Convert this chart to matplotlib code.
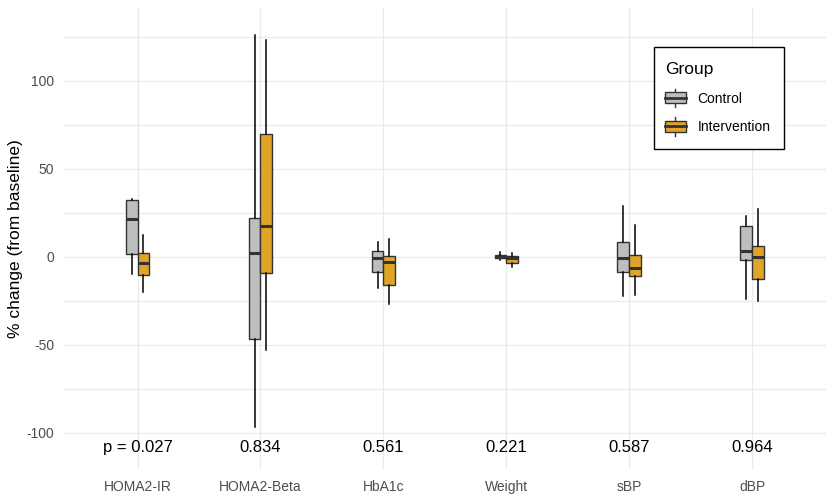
import numpy as np
import matplotlib.pyplot as plt
from matplotlib.legend_handler import HandlerBase
from matplotlib.patches import Rectangle, Patch
from matplotlib.lines import Line2D

plt.rcParams['font.family'] = ['Liberation Sans', 'DejaVu Sans']
plt.rcParams['axes.unicode_minus'] = False

# values (% change from baseline)
variables = ["HOMA2-IR", "HOMA2-Beta", "HbA1c", "Weight", "sBP", "dBP"]
p_labels = ["p = 0.027", "0.834", "0.561", "0.221", "0.587", "0.964"]
groups = ["Control", "Intervention"]

# per group: whisker low, q1, median, q3, whisker high
control_stats = [
    [-9.7, 1.7, 21.6, 32.5, 33.0],
    [-97.0, -47.0, 1.9, 22.2, 126.0],
    [-17.5, -8.5, -0.7, 3.0, 8.4],
    [-2.0, -1.0, 0.0, 0.8, 2.5],
    [-22.4, -8.5, -0.9, 8.4, 29.0],
    [-23.8, -1.7, 3.0, 17.7, 23.4],
]
intervention_stats = [
    [-20.0, -10.4, -3.8, 1.9, 12.5],
    [-53.0, -9.1, 17.5, 69.5, 123.0],
    [-27.0, -15.8, -3.2, 0.2, 9.9],
    [-5.7, -3.4, -1.0, 0.6, 2.3],
    [-22.0, -11.2, -6.6, 1.0, 18.2],
    [-25.0, -12.9, -0.4, 5.9, 27.2],
]

colors = {"Control": "#BEBEBE", "Intervention": "#E0A526"}
edge = "#333333"


def make_stats(rows):
    out = []
    for lo, q1, med, q3, hi in rows:
        out.append(dict(whislo=lo, q1=q1, med=med, q3=q3, whishi=hi, fliers=[]))
    return out


class BoxHandler(HandlerBase):
    def create_artists(self, legend, orig_handle, xdescent, ydescent,
                       width, height, fontsize, trans):
        cx = width / 2 - xdescent
        rect = Rectangle((-xdescent, -ydescent + height * 0.05), width, height * 0.9,
                         facecolor=orig_handle.get_facecolor(), edgecolor=edge,
                         linewidth=1.0, transform=trans)
        med = Line2D([-xdescent, width - xdescent], [height / 2 - ydescent] * 2,
                     color=edge, linewidth=2.0, transform=trans)
        wt = Line2D([cx, cx], [height * 0.95 - ydescent, height * 1.25 - ydescent],
                    color=edge, linewidth=1.0, transform=trans)
        wb = Line2D([cx, cx], [-ydescent - height * 0.25, height * 0.05 - ydescent],
                    color=edge, linewidth=1.0, transform=trans)
        return [wt, wb, rect, med]


fig = plt.figure(figsize=(8.29, 4.97), dpi=100)
ax = fig.add_axes([63.8 / 829, 27 / 497, 762 / 829, 463 / 497])

x = np.arange(1, len(variables) + 1)
bw = 0.095
for stats_rows, grp, off in [(control_stats, "Control", -bw / 2),
                             (intervention_stats, "Intervention", bw / 2)]:
    ax.bxp(make_stats(stats_rows), positions=x + off, widths=bw,
           showfliers=False, showcaps=False, patch_artist=True,
           boxprops=dict(facecolor=colors[grp], edgecolor=edge, linewidth=1.0),
           medianprops=dict(color=edge, linewidth=2.2),
           whiskerprops=dict(color="black", linewidth=1.1),
           manage_ticks=False, zorder=3)

for xi, lab in zip(x, p_labels):
    ax.text(xi, -108.5, lab, ha="center", va="center", fontsize=12, color="black")

ax.set_xlim(0.4, 6.6)
ax.set_ylim(-121.2, 141.9)
ax.set_xticks(x)
ax.set_xticklabels(variables)
ax.set_yticks([-100, -50, 0, 50, 100])
ax.set_yticks([-75, -25, 25, 75, 125], minor=True)
ax.tick_params(axis="both", which="both", length=0, labelsize=10, labelcolor="#4D4D4D")
ax.tick_params(axis="x", pad=7)
ax.tick_params(axis="y", pad=7)
ax.grid(True, which="major", color="#EBEBEB", linewidth=1.0, zorder=0)
ax.grid(True, which="minor", axis="y", color="#EBEBEB", linewidth=1.0, zorder=0)
ax.set_axisbelow(True)
for s in ax.spines.values():
    s.set_visible(False)
ax.set_ylabel("% change (from baseline)", fontsize=12.5)
ax.yaxis.set_label_coords((23 - 63.8) / 762, 0.5)

# legend frame drawn by hand so padding can differ per side
frame = Rectangle((654 / 829, 1 - 149 / 497), 130 / 829, 102 / 497,
                  transform=fig.transFigure, facecolor="white", edgecolor="black",
                  linewidth=1.0, zorder=5)
fig.patches.append(frame)

handles = [Patch(facecolor=colors[g]) for g in groups]
leg = fig.legend(handles, groups, title="Group", loc="upper left",
                 bbox_to_anchor=(665 / 829, 1 - 62 / 497),
                 handler_map={Patch: BoxHandler()}, fontsize=10, title_fontsize=12.5,
                 frameon=False, handlelength=1.5, handleheight=1.0, labelspacing=1.05,
                 borderpad=0, handletextpad=0.85, borderaxespad=0)
leg.set_zorder(6)
leg._legend_box.align = "left"

fig.savefig("out.png", dpi=100)
